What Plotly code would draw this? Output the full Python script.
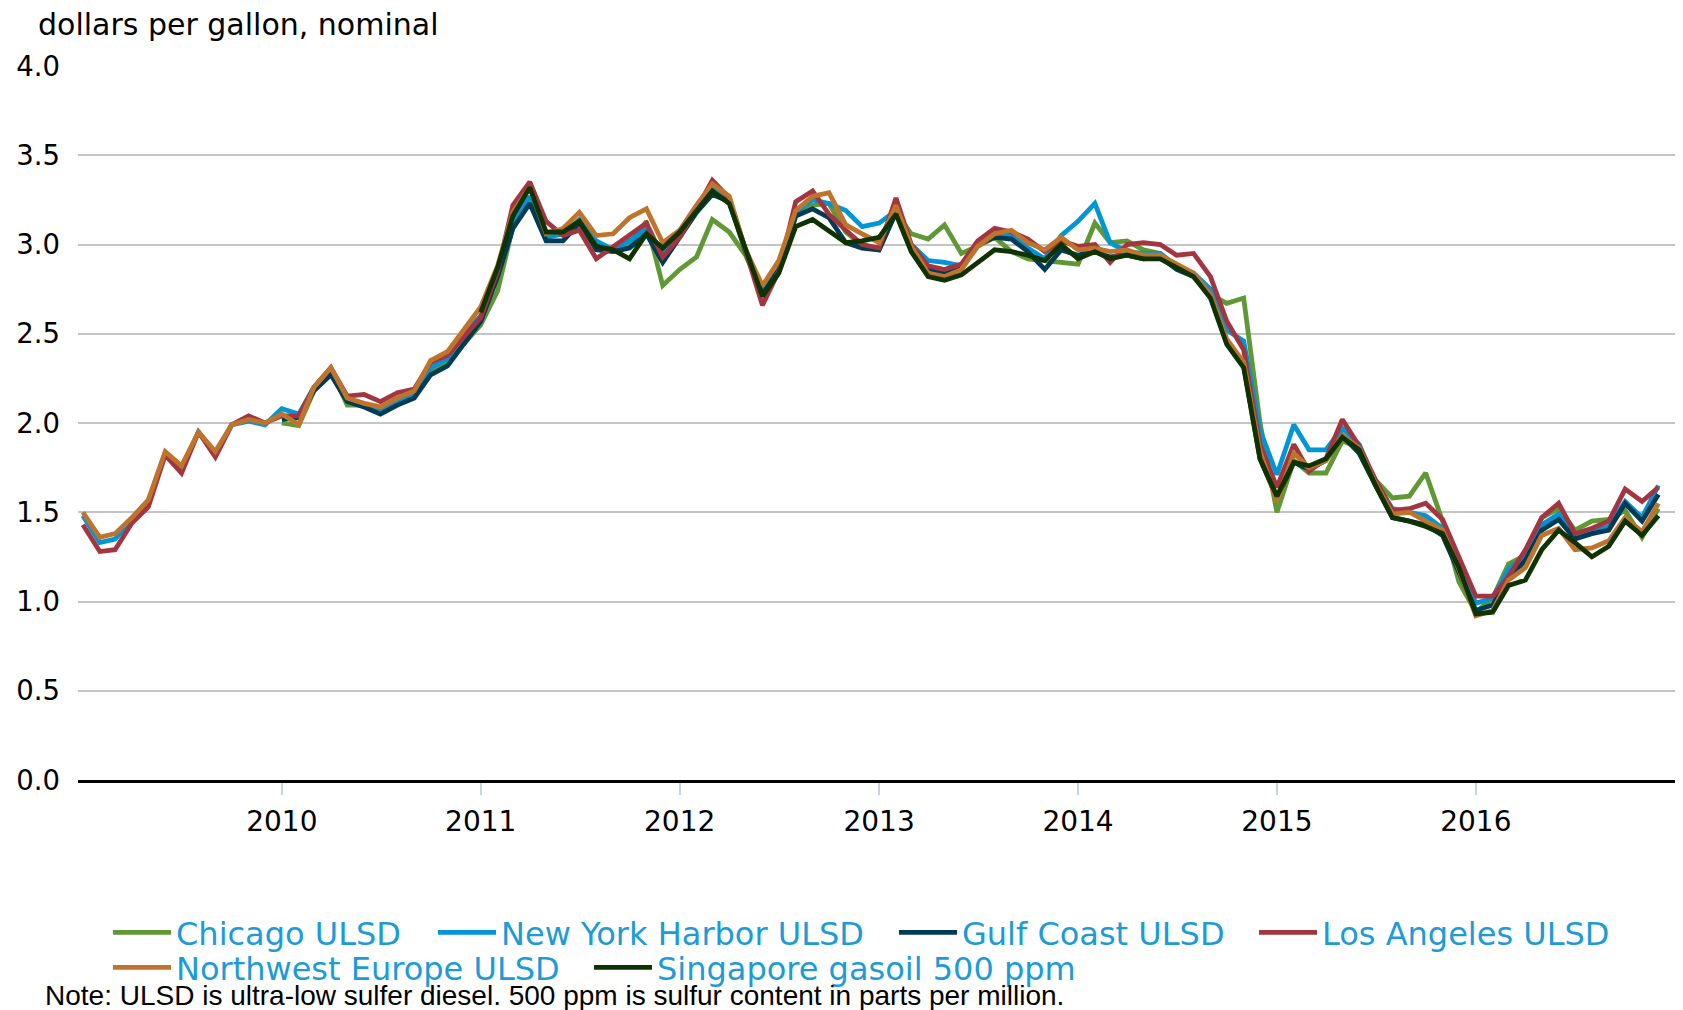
import pandas as pd
import plotly.graph_objects as go

# ---- data (monthly averages, dollars per gallon) ----
series_names = ["Chicago ULSD", "New York Harbor ULSD", "Gulf Coast ULSD",
                "Los Angeles ULSD", "Northwest Europe ULSD", "Singapore gasoil 500 ppm"]
series_colors = ["#5f9834", "#0096d6", "#003b55", "#a33541", "#c0742b", "#0f3300"]
series_start = ["2010-01-01", "2009-01-01", "2010-01-01", "2009-01-01", "2009-01-01", "2011-01-01"]

chicago = [
    2.00, 1.985, 2.18, 2.30, 2.10, 2.10, 2.06, 2.11, 2.15, 2.29, 2.34, 2.44,
    2.55, 2.74, 3.10, 3.25, 3.05, 3.06, 3.13, 3.00, 2.97, 3.00, 3.13, 2.77,
    2.86, 2.93, 3.14, 3.07, 2.94, 2.73, 2.85, 3.16, 3.22, 3.23, 3.07, 3.00,
    2.97, 3.18, 3.06, 3.03, 3.11, 2.95, 2.99, 3.04, 2.96, 2.92, 2.91, 2.90,
    2.89, 3.12, 3.01, 3.02, 2.97, 2.95, 2.87, 2.83, 2.72, 2.67, 2.70, 2.00,
    1.50, 1.79, 1.72, 1.72, 1.90, 1.86, 1.68, 1.58, 1.59, 1.72, 1.45, 1.11,
    0.94, 1.02, 1.21, 1.26, 1.47, 1.52, 1.40, 1.45, 1.46, 1.51, 1.36, 1.52]

new_york_harbor = [
    1.48, 1.33, 1.35, 1.46, 1.56, 1.83, 1.74, 1.95, 1.83, 1.99, 2.01, 1.99,
    2.08, 2.05, 2.20, 2.30, 2.12, 2.10, 2.07, 2.12, 2.16, 2.31, 2.36, 2.50,
    2.60, 2.84, 3.12, 3.27, 3.04, 3.06, 3.14, 3.02, 2.97, 3.02, 3.09, 2.95,
    3.05, 3.20, 3.31, 3.25, 2.97, 2.75, 2.86, 3.18, 3.25, 3.23, 3.19, 3.10,
    3.12, 3.19, 3.00, 2.91, 2.90, 2.88, 3.00, 3.06, 3.05, 2.98, 2.92, 3.05,
    3.13, 3.23, 3.01, 2.96, 2.95, 2.95, 2.88, 2.84, 2.75, 2.52, 2.46, 1.96,
    1.71, 1.99, 1.85, 1.85, 1.97, 1.88, 1.67, 1.52, 1.50, 1.48, 1.41, 1.22,
    0.99, 1.02, 1.18, 1.26, 1.43, 1.49, 1.36, 1.39, 1.42, 1.56, 1.47, 1.65]

gulf_coast = [
    2.02, 2.03, 2.18, 2.27, 2.12, 2.09, 2.05, 2.10, 2.14, 2.27, 2.32, 2.44,
    2.57, 2.82, 3.09, 3.23, 3.02, 3.02, 3.12, 2.97, 2.96, 2.98, 3.06, 2.90,
    3.04, 3.18, 3.28, 3.24, 2.96, 2.72, 2.86, 3.16, 3.20, 3.15, 3.01, 2.98,
    2.97, 3.18, 2.97, 2.86, 2.84, 2.87, 3.00, 3.04, 3.03, 2.96, 2.86, 2.97,
    2.94, 2.96, 2.93, 2.94, 2.92, 2.93, 2.86, 2.82, 2.71, 2.45, 2.32, 1.80,
    1.58, 1.78, 1.74, 1.79, 1.93, 1.83, 1.65, 1.47, 1.45, 1.43, 1.37, 1.17,
    0.95, 0.98, 1.13, 1.23, 1.40, 1.46, 1.35, 1.38, 1.40, 1.55, 1.45, 1.60]

los_angeles = [
    1.43, 1.28, 1.29, 1.44, 1.53, 1.82, 1.72, 1.95, 1.81, 1.99, 2.04, 2.00,
    2.04, 2.04, 2.20, 2.31, 2.15, 2.16, 2.12, 2.17, 2.19, 2.34, 2.38, 2.48,
    2.59, 2.85, 3.22, 3.35, 3.13, 3.05, 3.08, 2.92, 2.99, 3.05, 3.12, 2.93,
    3.04, 3.20, 3.36, 3.26, 2.97, 2.66, 2.85, 3.24, 3.30, 3.17, 3.08, 3.00,
    2.98, 3.26, 3.00, 2.88, 2.86, 2.89, 3.02, 3.09, 3.07, 3.03, 2.96, 3.02,
    2.99, 3.00, 2.90, 3.00, 3.01, 3.00, 2.94, 2.95, 2.82, 2.57, 2.41, 1.88,
    1.64, 1.88, 1.73, 1.80, 2.02, 1.87, 1.68, 1.51, 1.52, 1.55, 1.46, 1.24,
    1.03, 1.03, 1.14, 1.29, 1.47, 1.55, 1.38, 1.41, 1.45, 1.63, 1.56, 1.64]

northwest_europe = [
    1.50, 1.36, 1.38, 1.47, 1.57, 1.84, 1.76, 1.95, 1.84, 1.99, 2.02, 2.00,
    2.05, 1.99, 2.20, 2.31, 2.14, 2.11, 2.09, 2.14, 2.18, 2.35, 2.40, 2.52,
    2.65, 2.88, 3.18, 3.32, 3.06, 3.09, 3.18, 3.05, 3.06, 3.15, 3.20, 3.01,
    3.08, 3.22, 3.34, 3.27, 2.97, 2.77, 2.91, 3.19, 3.27, 3.29, 3.11, 3.06,
    3.01, 3.22, 2.99, 2.84, 2.82, 2.86, 2.99, 3.06, 3.08, 3.01, 2.97, 3.04,
    2.97, 2.98, 2.96, 2.97, 2.94, 2.94, 2.89, 2.84, 2.72, 2.47, 2.34, 1.84,
    1.56, 1.83, 1.75, 1.79, 1.93, 1.86, 1.66, 1.49, 1.50, 1.45, 1.40, 1.18,
    0.92, 0.95, 1.12, 1.19, 1.37, 1.41, 1.29, 1.30, 1.34, 1.47, 1.39, 1.55]

singapore = [
    2.62, 2.87, 3.16, 3.32, 3.07, 3.07, 3.13, 2.99, 2.97, 2.92, 3.06, 2.98,
    3.07, 3.19, 3.30, 3.23, 2.97, 2.71, 2.84, 3.10, 3.14, 3.08, 3.01, 3.02,
    3.04, 3.17, 2.96, 2.82, 2.80, 2.83, 2.90, 2.97, 2.96, 2.94, 2.91, 3.00,
    2.92, 2.96, 2.92, 2.94, 2.92, 2.92, 2.87, 2.82, 2.70, 2.44, 2.31, 1.80,
    1.59, 1.78, 1.76, 1.80, 1.92, 1.85, 1.65, 1.47, 1.45, 1.42, 1.38, 1.19,
    0.93, 0.94, 1.09, 1.12, 1.29, 1.40, 1.33, 1.25, 1.31, 1.45, 1.37, 1.48]

series_values = [chicago, new_york_harbor, gulf_coast, los_angeles, northwest_europe, singapore]

x_tick_vals = ["2010-01-01", "2011-01-01", "2012-01-01", "2013-01-01",
               "2014-01-01", "2015-01-01", "2016-01-01"]
x_tick_text = ["2010", "2011", "2012", "2013", "2014", "2015", "2016"]
y_tick_vals = [0.0, 0.5, 1.0, 1.5, 2.0, 2.5, 3.0, 3.5, 4.0]

# ---- page geometry ----
# the page body adds an 8px offset; the figure is sized so it ends at the window edge
OFF = 8
W, H = 1683 - OFF, 1010 - OFF
ml, mr, mt, mb = 70, 5, 58, 230
PW, PH = W - ml - mr, H - mt - mb


def px_x(x):  # page pixel -> paper x
    return (x - OFF - ml) / PW


def px_y(y):  # page pixel -> paper y
    return (H - mb - (y - OFF)) / PH


# legend entry placement (page pixels of each swatch start, row top)
legend_ids = ["legend", "legend2", "legend3", "legend4", "legend5", "legend6"]
legend_x_px = [113, 438, 899, 1259, 113, 594]
legend_y_px = [905, 905, 905, 905, 940, 940]

# ---- figure ----
fig = go.Figure()
for name, color, start, vals, lg in zip(series_names, series_colors, series_start,
                                        series_values, legend_ids):
    dates = pd.date_range(start, periods=len(vals), freq="MS")
    fig.add_trace(go.Scatter(x=dates, y=vals, mode="lines", name=name, legend=lg,
                             line=dict(color=color, width=4.8)))

legend_font = dict(family="DejaVu Sans", size=32, color="#1d9bd6")
legends = {}
for lg, lx, ly in zip(legend_ids, legend_x_px, legend_y_px):
    legends[lg] = dict(orientation="h", x=px_x(lx - 5), xanchor="left",
                       y=px_y(ly), yanchor="top", font=legend_font,
                       itemwidth=58, bgcolor="rgba(0,0,0,0)")

fig.update_layout(
    width=W, height=H,
    margin=dict(l=ml, r=mr, t=mt, b=mb, autoexpand=False),
    paper_bgcolor="white", plot_bgcolor="white",
    font=dict(family="DejaVu Sans", color="black"),
    title=dict(text="dollars per gallon, nominal", x=(38 - OFF) / W, xanchor="left",
               y=1 - (24 - OFF) / H, yanchor="middle",
               font=dict(family="DejaVu Sans", size=30, color="black")),
    xaxis=dict(type="date", range=["2008-12-23", "2017-01-06"],
               tickvals=x_tick_vals, ticktext=x_tick_text,
               ticks="outside", ticklen=12, tickwidth=2, tickcolor="#c6d4e2",
               showgrid=False, showline=True, linecolor="black", linewidth=3,
               ticklabelstandoff=2, automargin=False,
               tickfont=dict(family="DejaVu Sans", size=28, color="black")),
    yaxis=dict(range=[0, 4], tickvals=y_tick_vals, tickformat=".1f",
               showgrid=True, gridcolor="#c4c4c4", gridwidth=2,
               zeroline=False, showline=False, ticks="",
               ticklabelstandoff=17, automargin=False,
               tickfont=dict(family="DejaVu Sans", size=27.5, color="black")),
    showlegend=True,
    **legends,
)

fig.add_annotation(
    text="Note: ULSD is ultra-low sulfer diesel. 500 ppm is sulfur content in parts per million.",
    xref="paper", yref="paper", x=px_x(43), xanchor="left",
    y=px_y(995), yanchor="middle", showarrow=False,
    font=dict(family="Liberation Sans", size=28, color="black"))

fig.write_html("out.html")
